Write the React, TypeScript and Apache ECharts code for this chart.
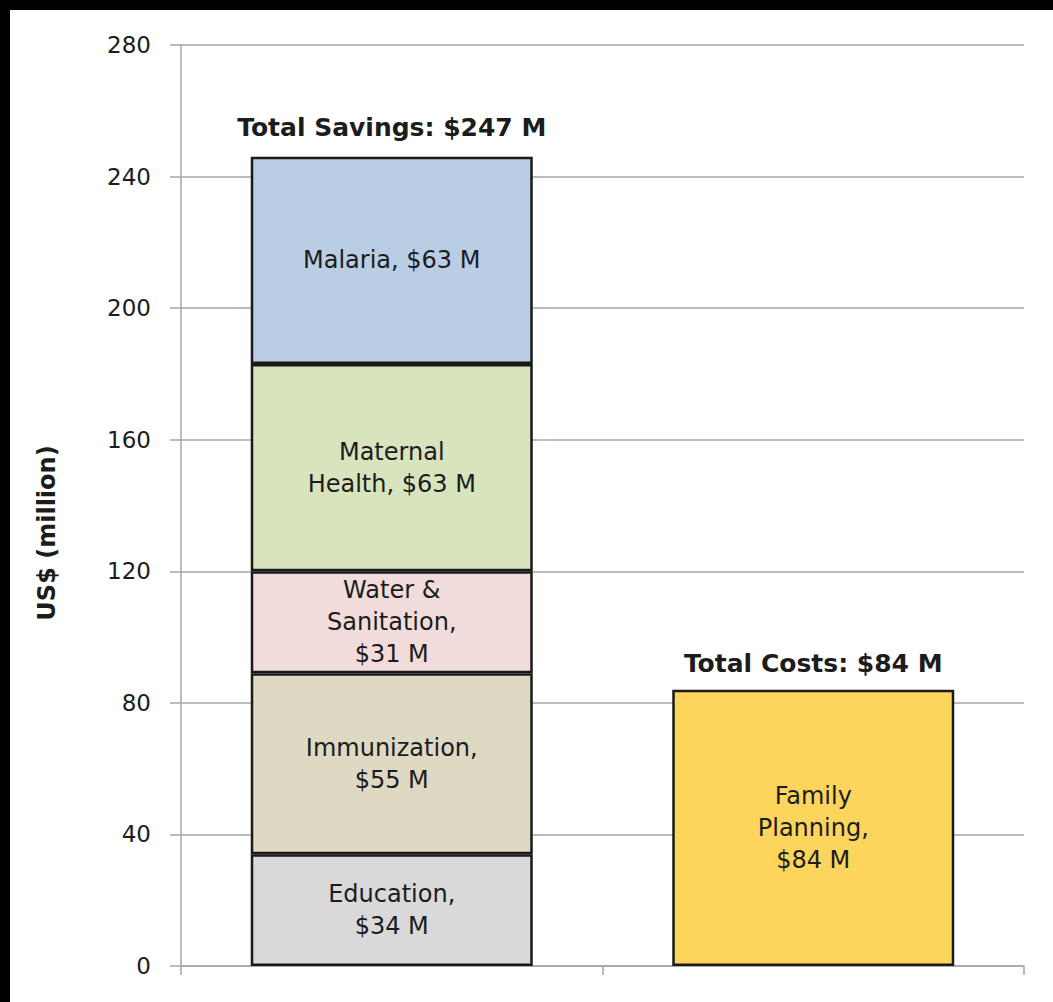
import React, { useEffect, useRef } from "react";
import * as echarts from "echarts";

const categories = ["Total Savings", "Total Costs"];
const segmentNames = ["Education", "Immunization", "Water & Sanitation", "Maternal Health", "Malaria", "Family Planning"];
const educationValues = [34, "-"];
const immunizationValues = [55, "-"];
const waterValues = [31, "-"];
const maternalValues = [63, "-"];
const malariaValues = [63, "-"];
const familyValues = ["-", 84];
const segmentLabels = [
  "Education,\n$34 M",
  "Immunization,\n$55 M",
  "Water &\nSanitation,\n$31 M",
  "Maternal\nHealth, $63 M",
  "Malaria, $63 M",
  "Family\nPlanning,\n$84 M",
];
const segmentColors = ["#d9d9d9", "#ddd9c3", "#f2dcdb", "#d7e4bd", "#b9cde5", "#fdd55c"];
const totalValues = [247, 84];
const totalLabels = ["Total Savings: $247 M", "Total Costs: $84 M"];
const yTicks = [0, 40, 80, 120, 160, 200, 240, 280];

const FONT = "'DejaVu Sans', sans-serif";
const TEXT = "#1c1c1c";
const GRID = "#a6a6a6";

export default function App() {
  const ref = useRef<HTMLDivElement>(null);
  useEffect(() => {
    document.body.style.margin = "0";
    document.body.style.background = "#000";
    const chart = echarts.init(ref.current!, null, { renderer: "svg" });
    const seriesData = [educationValues, immunizationValues, waterValues, maternalValues, malariaValues, familyValues];
    const bars = seriesData.map((d, i) => ({
      name: segmentNames[i],
      type: "bar",
      stack: "total",
      barWidth: 282,
      data: d,
      itemStyle: { color: segmentColors[i], borderColor: "#1a1a1a", borderWidth: 2.5 },
      label: {
        show: true,
        position: "inside",
        formatter: segmentLabels[i],
        color: TEXT,
        fontFamily: FONT,
        fontSize: 24,
        lineHeight: 32,
        align: "center",
      },
    }));
    chart.setOption({
      animation: false,
      backgroundColor: "#ffffff",
      grid: { left: 171, right: 29, top: 35, bottom: 36 },
      xAxis: {
        type: "category",
        data: categories,
        axisLabel: { show: false },
        axisLine: { show: true, lineStyle: { color: GRID, width: 1.5 } },
        axisTick: { show: true, length: 9, lineStyle: { color: GRID, width: 1.5 } },
        splitLine: { show: false },
      },
      yAxis: {
        type: "value",
        min: yTicks[0],
        max: yTicks[yTicks.length - 1],
        interval: 40,
        axisLine: { show: true, lineStyle: { color: GRID, width: 1.5 } },
        axisTick: { show: true, length: 11, lineStyle: { color: GRID, width: 1.5 } },
        axisLabel: { color: TEXT, fontFamily: FONT, fontSize: 23, margin: 30 },
        splitLine: { show: true, lineStyle: { color: GRID, width: 1.5 } },
      },
      graphic: [
        {
          type: "text",
          x: 37,
          y: 523,
          rotation: Math.PI / 2,
          style: {
            text: "US$ (million)",
            fill: TEXT,
            font: `bold 24px ${FONT}`,
            align: "center",
            verticalAlign: "middle",
          },
        },
      ],
      series: [
        ...bars,
        {
          type: "scatter",
          symbolSize: 0,
          data: totalValues,
          itemStyle: { opacity: 1, color: "rgba(0,0,0,0)" },
          label: {
            show: true,
            position: "top",
            distance: 14,
            formatter: (p: any) => totalLabels[p.dataIndex],
            color: TEXT,
            fontFamily: FONT,
            fontWeight: "bold",
            fontSize: 25,
          },
          z: 10,
        },
      ],
    });
    return () => chart.dispose();
  }, []);
  return (
    <div style={{ position: "absolute", left: 0, top: 0, width: 1053, height: 1002, background: "#000" }}>
      <div
        ref={ref}
        style={{ position: "absolute", left: 10, top: 10, width: 1043, height: 992, background: "#fff" }}
      />
    </div>
  );
}
